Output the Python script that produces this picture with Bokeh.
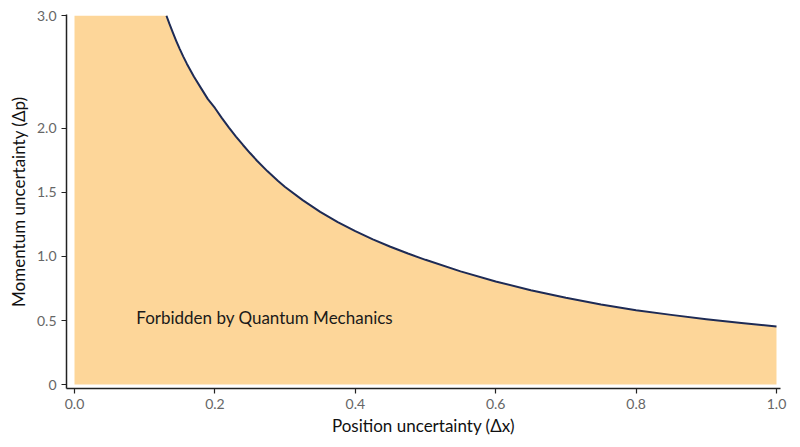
from bokeh.plotting import figure
from bokeh.models import FixedTicker, Range1d, Label
from bokeh.embed import file_html
from bokeh.resources import INLINE

# Curve (Δx, Δp)
curve_x = [0.131, 0.135, 0.14, 0.145, 0.15, 0.155, 0.16, 0.17, 0.18, 0.19, 0.2, 0.21,
           0.22, 0.23, 0.24, 0.25, 0.26, 0.275, 0.29, 0.3, 0.325, 0.35, 0.375, 0.4,
           0.425, 0.45, 0.475, 0.5, 0.55, 0.6, 0.65, 0.7, 0.75, 0.8, 0.85, 0.9, 0.95, 1.0]
curve_y = [2.88, 2.82, 2.75, 2.683, 2.62, 2.561, 2.506, 2.406, 2.317, 2.229, 2.16, 2.081,
           2.007, 1.937, 1.871, 1.808, 1.748, 1.665, 1.59, 1.543, 1.44, 1.349, 1.269, 1.198,
           1.134, 1.076, 1.023, 0.974, 0.884, 0.805, 0.737, 0.677, 0.625, 0.581, 0.544, 0.51, 0.48, 0.453]
top_value = 2.88

x_ticks = [0.0, 0.2, 0.4, 0.6, 0.8, 1.0]
y_ticks = [0.0, 0.5, 1.0, 1.5, 2.0, top_value]
y_tick_labels = ["0", "0.5", "1.0", "1.5", "2.0", "3.0"]

annotation_text = "Forbidden by Quantum Mechanics"
annotation_x, annotation_y = 0.088, 0.52

FONT = "Lato"

p = figure(width=796, height=443, output_backend="svg", toolbar_location=None,
           x_range=Range1d(-0.0114, 1.0057), y_range=Range1d(-0.031, 2.89))
p.min_border_left = 66
p.min_border_right = 16
p.min_border_top = 14
p.min_border_bottom = 55
p.outline_line_color = None
p.background_fill_color = "white"
p.border_fill_color = "white"
p.grid.visible = False

fill_x = [0.0] + curve_x
fill_y = [top_value] + curve_y
p.varea(x=fill_x, y1=[0.0] * len(fill_x), y2=fill_y, fill_color="#FDD699", fill_alpha=1.0)
p.line(x=curve_x, y=curve_y, line_color="#1E2B55", line_width=2, line_join="round")

p.add_layout(Label(x=annotation_x, y=annotation_y, text=annotation_text,
                   text_font=FONT, text_font_size="17px", text_color="#1a1a1a",
                   text_baseline="middle", text_align="left"))

p.xaxis.ticker = FixedTicker(ticks=x_ticks)
p.xaxis.major_label_overrides = {t: f"{t:.1f}" for t in x_ticks}
p.yaxis.ticker = FixedTicker(ticks=y_ticks)
p.yaxis.major_label_overrides = {t: l for t, l in zip(y_ticks, y_tick_labels)}

p.xaxis.axis_label = "Position uncertainty (Δx)"
p.yaxis.axis_label = "Momentum uncertainty (Δp)"

for ax in (p.xaxis, p.yaxis):
    ax.axis_line_color = "#222222"
    ax.axis_line_width = 1.5
    ax.major_tick_line_color = "#222222"
    ax.major_tick_line_width = 1.2
    ax.major_tick_out = 5
    ax.major_tick_in = 0
    ax.minor_tick_line_color = None
    ax.major_label_text_font = FONT
    ax.major_label_text_font_size = "14px"
    ax.major_label_text_color = "#666666"
    ax.axis_label_text_font = FONT
    ax.axis_label_text_font_size = "17px"
    ax.axis_label_text_font_style = "normal"
    ax.axis_label_text_color = "#111111"
    ax.major_label_standoff = 5
p.xaxis.axis_label_standoff = 3
p.yaxis.axis_label_standoff = 5

open("out.html", "w").write(file_html(p, INLINE))
